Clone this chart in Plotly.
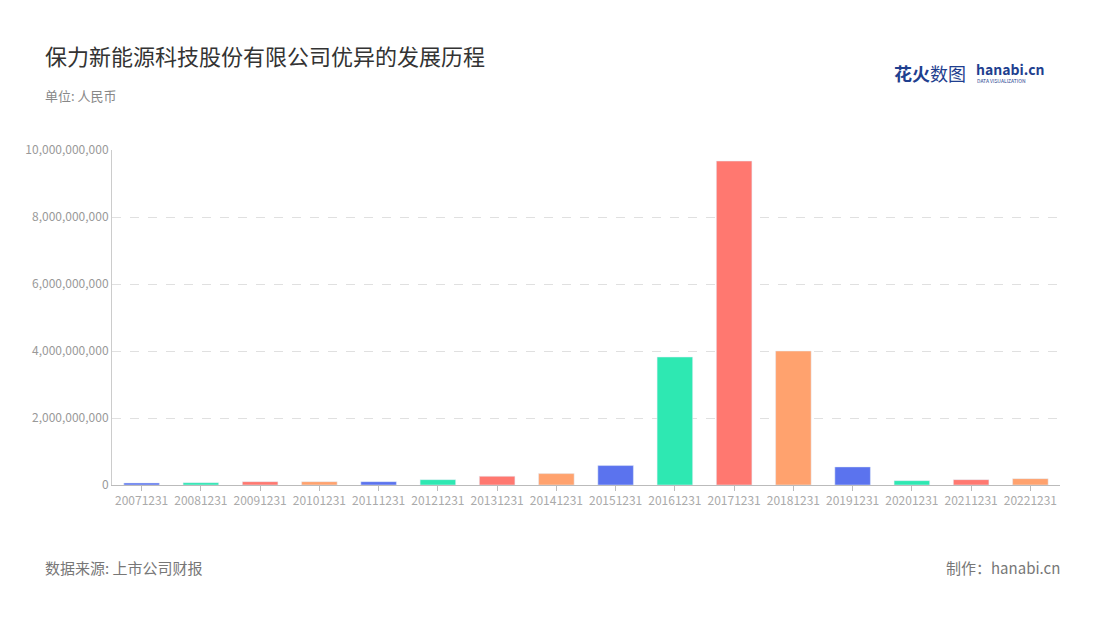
import plotly.graph_objects as go

years = ["20071231", "20081231", "20091231", "20101231", "20111231", "20121231",
         "20131231", "20141231", "20151231", "20161231", "20171231", "20181231",
         "20191231", "20201231", "20211231", "20221231"]
values = [0.06e9, 0.07e9, 0.10e9, 0.10e9, 0.10e9, 0.16e9, 0.26e9, 0.34e9,
          0.58e9, 3.82e9, 9.67e9, 4.0e9, 0.54e9, 0.13e9, 0.16e9, 0.19e9]
palette = ["#5B73EE", "#2EE8B2", "#FF7870", "#FFA26E"]
colors = [palette[i % 4] for i in range(len(years))]

# the page renders shifted by ~8px, so compensate
L, R, T, B = 104, 48, 142, 143

fig = go.Figure(go.Bar(x=years, y=values, marker_color=colors, width=0.6))

fig.update_layout(
    width=1100, height=620,
    margin=dict(l=L, r=R, t=T, b=B),
    plot_bgcolor="white", paper_bgcolor="white",
    font=dict(family="Noto Sans CJK SC", color="#999"),
    showlegend=False,
    xaxis=dict(tickfont=dict(size=12, color="#aaa"), showline=True, linecolor="#bbb",
               ticks="outside", tickcolor="#bbb", ticklen=5),
    yaxis=dict(range=[0, 10e9], dtick=2e9, tickformat=",", tickfont=dict(size=12, color="#999"),
               gridcolor="#e0e0e0", griddash="dash", zeroline=False,
               showline=True, linecolor="#ccc"),
)

anns = [
    dict(text="保力新能源科技股份有限公司优异的发展历程", x=43, y=55, size=22, color="#333", xa="left"),
    dict(text="单位: 人民币", x=43, y=96, size=13, color="#888", xa="left"),
    dict(text="数据来源: 上市公司财报", x=43, y=567, size=15, color="#777", xa="left"),
    dict(text="制作：hanabi.cn", x=1062, y=567, size=15, color="#777", xa="right"),
    dict(text="<b>花火</b>数图", x=892, y=73, size=18, color="#1f3f8f", xa="left"),
    dict(text="<b>hanabi.cn</b>", x=974, y=69, size=14, color="#1f3f8f", xa="left"),
    dict(text="DATA VISUALIZATION", x=975, y=80, size=5, color="#1f3f8f", xa="left"),
]
pw, ph = 1100 - L - R, 620 - T - B
for a in anns:
    px_x, px_y = a["x"] - 8, a["y"] - 8
    fig.add_annotation(text=a["text"], x=(px_x - L) / pw, y=(620 - B - px_y) / ph,
                       xref="paper", yref="paper", showarrow=False,
                       xanchor=a["xa"], yanchor="middle",
                       font=dict(size=a["size"], color=a["color"]))

fig.write_html("out.html")
